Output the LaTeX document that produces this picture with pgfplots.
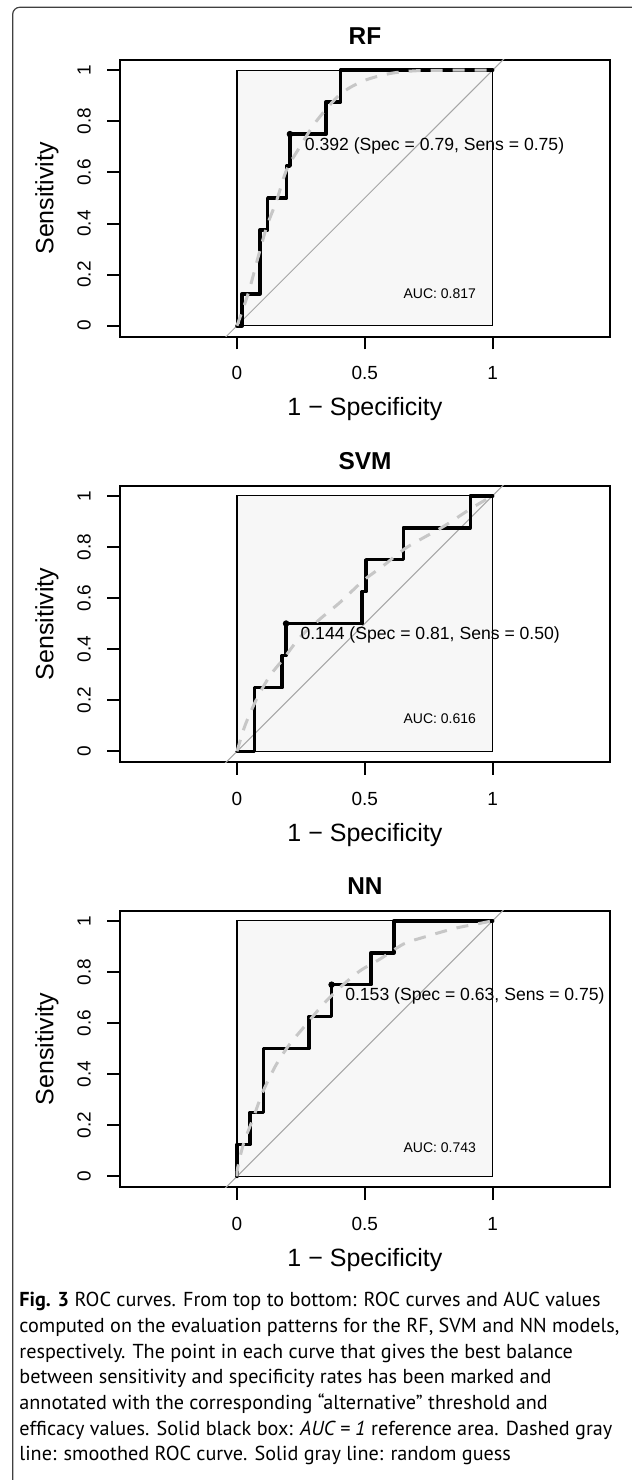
\documentclass[border=0pt]{standalone}
\usepackage{fontspec}
\setmainfont{Liberation Sans}
\newfontfamily\capfont{PT Sans}
\usepackage{pgfplots}
\pgfplotsset{compat=1.18}

\pgfplotsset{
  roc/.style={
    anchor=south west, scale only axis,
    width=244.75pt, height=138.35pt,
    xmin=-0.457, xmax=1.458, ymin=-0.043, ymax=1.04,
    xtick={0,0.5,1}, ytick={0,0.2,0.4,0.6,0.8,1},
    xticklabels={0,0.5,1}, yticklabels={0,0.2,0.4,0.6,0.8,1},
    xtick pos=left, ytick pos=left, tick align=outside,
    major tick length=6.35pt,
    major tick style={black, line width=1pt},
    axis line style={line width=1pt},
    tick label style={font=\fontsize{9.5}{11}\selectfont},
    xticklabel style={anchor=base, yshift=-15.3pt},
    yticklabel style={xshift=-8.4pt, rotate=90, anchor=base},
    xlabel={1 − Specificity}, ylabel={Sensitivity},
    label style={font=\fontsize{12.5}{14}\selectfont},
    xlabel style={at={(axis description cs:0.5,-0.2866)}, anchor=base},
    ylabel style={at={(axis description cs:-0.1363,0.5)}, anchor=base},
    every axis title/.style={at={(axis description cs:0.5,1.0567)}, anchor=base,
      font=\fontsize{12.2}{14}\selectfont\bfseries},
    clip mode=individual,
  },
  refbox/.style={draw=black, line width=0.65pt, fill=black!3},
  diag/.style={black!35, line width=0.5pt},
  step/.style={black, line width=1.8pt, line join=round, line cap=round},
  smoothed/.style={black!22, line width=1.5pt, dash pattern=on 6pt off 5pt, smooth},
  best/.style={only marks, mark=*, mark size=1.4pt, black},
}
\newcommand{\annfont}{\fontsize{8.8}{10}\selectfont}
\newcommand{\aucfont}{\fontsize{7}{8}\selectfont}

\begin{document}
\begin{tikzpicture}
\useasboundingbox (0,0) rectangle (316pt,740pt);
\draw[black!75, line width=0.6pt, rounded corners=3.5pt] (6.35pt,-20pt) -- (6.35pt,736.35pt) -- (340pt,736.35pt);

% RF
\begin{axis}[roc, at={(60.1pt,571.65pt)}, title={RF}]
\addplot[refbox] coordinates {(0,0) (1,0) (1,1) (0,1)} -- cycle;
\addplot[diag] coordinates {(-0.1,-0.1) (1.1,1.1)};
\addplot[step] coordinates {(0,0) (0.02,0) (0.02,0.125) (0.09,0.125) (0.09,0.375) (0.12,0.375) (0.12,0.5) (0.194,0.5) (0.194,0.625) (0.207,0.625) (0.207,0.75) (0.348,0.75) (0.348,0.875) (0.405,0.875) (0.405,1) (1,1)};
\addplot[smoothed] coordinates {(0,0) (0.044,0.127) (0.083,0.27) (0.116,0.387) (0.155,0.49) (0.194,0.61) (0.246,0.70) (0.31,0.80) (0.403,0.905) (0.494,0.958) (0.598,0.987) (0.703,0.998) (0.85,1) (1,1)};
\addplot[best] coordinates {(0.207,0.75)};
\node[anchor=base west, font=\annfont, inner sep=0] at (axis cs:0.264,0.685) {0.392 (Spec = 0.79, Sens = 0.75)};
\node[anchor=west, font=\aucfont, inner sep=0] at (axis cs:0.65,0.127) {AUC: 0.817};
\end{axis}

% SVM
\begin{axis}[roc, at={(60.1pt,358.85pt)}, title={SVM}]
\addplot[refbox] coordinates {(0,0) (1,0) (1,1) (0,1)} -- cycle;
\addplot[diag] coordinates {(-0.1,-0.1) (1.1,1.1)};
\addplot[step] coordinates {(0,0) (0.068,0) (0.068,0.25) (0.177,0.25) (0.177,0.375) (0.192,0.375) (0.192,0.5) (0.49,0.5) (0.49,0.625) (0.505,0.625) (0.505,0.75) (0.651,0.75) (0.651,0.875) (0.913,0.875) (0.913,1) (1,1)};
\addplot[smoothed] coordinates {(0,0) (0.031,0.10) (0.077,0.205) (0.129,0.296) (0.181,0.361) (0.246,0.446) (0.325,0.518) (0.403,0.583) (0.494,0.668) (0.572,0.726) (0.664,0.798) (0.808,0.88) (0.918,0.952) (1,1)};
\addplot[best] coordinates {(0.192,0.5)};
\node[anchor=base west, font=\annfont, inner sep=0] at (axis cs:0.247,0.436) {0.144 (Spec = 0.81, Sens = 0.50)};
\node[anchor=west, font=\aucfont, inner sep=0] at (axis cs:0.65,0.127) {AUC: 0.616};
\end{axis}

% NN
\begin{axis}[roc, at={(60.1pt,146.35pt)}, title={NN}]
\addplot[refbox] coordinates {(0,0) (1,0) (1,1) (0,1)} -- cycle;
\addplot[diag] coordinates {(-0.1,-0.1) (1.1,1.1)};
\addplot[step] coordinates {(0,0) (0,0.125) (0.051,0.125) (0.051,0.25) (0.104,0.25) (0.104,0.5) (0.282,0.5) (0.282,0.625) (0.37,0.625) (0.37,0.75) (0.524,0.75) (0.524,0.875) (0.614,0.875) (0.614,1) (1,1)};
\addplot[smoothed] coordinates {(0,0) (0.003,0.035) (0.025,0.126) (0.064,0.23) (0.103,0.335) (0.155,0.44) (0.207,0.518) (0.272,0.596) (0.338,0.674) (0.403,0.739) (0.481,0.804) (0.559,0.85) (0.651,0.909) (0.728,0.935) (0.85,0.97) (0.95,0.99) (1,1)};
\addplot[best] coordinates {(0.37,0.75)};
\node[anchor=base west, font=\annfont, inner sep=0] at (axis cs:0.422,0.69) {0.153 (Spec = 0.63, Sens = 0.75)};
\node[anchor=west, font=\aucfont, inner sep=0] at (axis cs:0.65,0.113) {AUC: 0.743};
\end{axis}

% caption
\begin{scope}[every node/.style={anchor=base west, inner sep=0, font=\capfont\fontsize{10.1}{12}\selectfont}]
\node at (9.5pt,86.5pt) {\textbf{Fig. 3} ROC curves. From top to bottom: ROC curves and AUC values};
\node at (9.5pt,73.65pt) {computed on the evaluation patterns for the RF, SVM and NN models,};
\node at (9.5pt,60.85pt) {respectively. The point in each curve that gives the best balance};
\node at (9.5pt,48pt) {between sensitivity and specificity rates has been marked and};
\node at (9.5pt,35.15pt) {annotated with the corresponding “alternative” threshold and};
\node at (9.5pt,22.35pt) {efficacy values. Solid black box: \textit{AUC = 1} reference area. Dashed gray};
\node at (9.5pt,9.5pt) {line: smoothed ROC curve. Solid gray line: random guess};
\end{scope}
\end{tikzpicture}
\end{document}
